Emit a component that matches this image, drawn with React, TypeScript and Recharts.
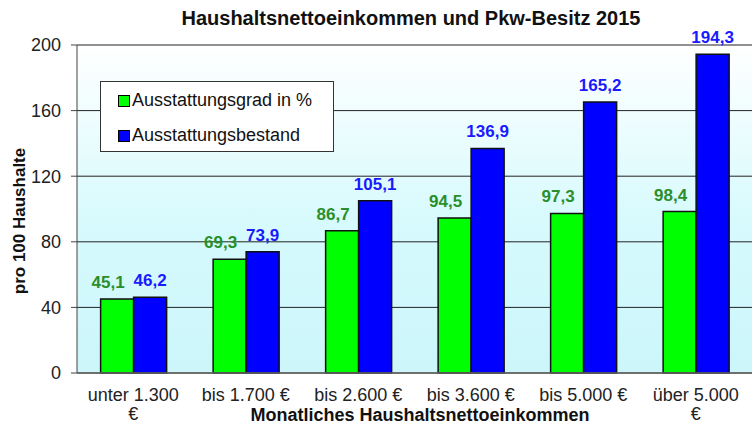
import { BarChart, Bar, XAxis, YAxis, CartesianGrid, LabelList, Legend } from 'recharts';

const categories = ['unter 1.300 €', 'bis 1.700 €', 'bis 2.600 €', 'bis 3.600 €', 'bis 5.000 €', 'über 5.000 €'];
const ausstattungsgrad = [45.1, 69.3, 86.7, 94.5, 97.3, 98.4];
const ausstattungsbestand = [46.2, 73.9, 105.1, 136.9, 165.2, 194.3];
const seriesNames = ['Ausstattungsgrad in %', 'Ausstattungsbestand'];
const yTicks = [0, 40, 80, 120, 160, 200];

const FONT = '"Liberation Sans", Arial, sans-serif';

const data = categories.map((name, i) => ({
  name,
  grad: ausstattungsgrad[i],
  bestand: ausstattungsbestand[i],
}));

const fmt = (v: number) => v.toFixed(1).replace('.', ',');

// long labels don't fit the band and break before the euro sign, as in the original
function splitLabel(label: string) {
  if (label.length <= 11) return [label];
  const cut = label.lastIndexOf(' ');
  return [label.slice(0, cut), label.slice(cut + 1)];
}

function CategoryTick({ x, y, payload }: any) {
  const lines = splitLabel(payload.value);
  return (
    <text x={x} y={y} textAnchor="middle" fontSize={18} fontFamily={FONT} fill="#222">
      {lines.map((line, i) => (
        <tspan key={i} x={x} dy={i === 0 ? 13 : 19}>
          {line}
        </tspan>
      ))}
    </text>
  );
}

// value labels above the bars; green ones sit a bit to the left like in the original
const makeLabel = (color: string, dx: number) => (props: any) => {
  const { x, y, width, value } = props;
  return (
    <text
      x={x + width / 2 + dx}
      y={y - 11}
      textAnchor="middle"
      fontSize={17}
      fontWeight="bold"
      fontFamily={FONT}
      fill={color}
    >
      {fmt(value)}
    </text>
  );
};

function LegendBox({ payload }: any) {
  const items = [...(payload || [])].sort(
    (a: any, b: any) => seriesNames.indexOf(a.value) - seriesNames.indexOf(b.value)
  );
  return (
    <div
      style={{
        width: 234,
        height: 71,
        boxSizing: 'border-box',
        border: '1px solid #333',
        background: '#fff',
        paddingTop: 1,
        fontFamily: FONT,
        fontSize: 18,
        color: '#111',
      }}
    >
      {items.map((p: any) => (
        <div key={p.value} style={{ height: 35, lineHeight: '35px', display: 'flex', alignItems: 'center', paddingLeft: 17 }}>
          <span
            style={{
              display: 'inline-block',
              width: 10,
              height: 10,
              background: p.color,
              border: '1px solid #000',
              marginRight: 2,
            }}
          />
          {p.value}
        </div>
      ))}
    </div>
  );
}

export default function App() {
  return (
    <div style={{ position: 'absolute', left: 0, top: 0, width: 753, height: 425, background: '#fff' }}>
      <BarChart
        width={753}
        height={425}
        data={data}
        margin={{ top: 45, right: 1, left: 0, bottom: 0 }}
        barCategoryGap="21%"
        barGap={0}
      >
        <defs>
          <linearGradient id="plotBg" x1="0" y1="0" x2="0" y2="1">
            <stop offset="0%" stopColor="#ffffff" />
            <stop offset="55%" stopColor="#d6fafd" />
            <stop offset="100%" stopColor="#ccf6fa" />
          </linearGradient>
        </defs>
        <CartesianGrid vertical={false} stroke="#222" fill="url(#plotBg)" fillOpacity={1} />
        <XAxis
          dataKey="name"
          height={52}
          tick={<CategoryTick />}
          tickLine={false}
          tickSize={0}
          tickMargin={15}
          axisLine={{ stroke: '#666', strokeWidth: 1.5 }}
          interval={0}
        />
        <YAxis
          width={77}
          domain={[0, 200]}
          ticks={yTicks}
          tickSize={6}
          tickMargin={10}
          tickLine={{ stroke: '#444' }}
          axisLine={{ stroke: '#444' }}
          tick={{ fontSize: 18, fill: '#222', fontFamily: FONT }}
        />
        <Legend
          layout="vertical"
          align="center"
          verticalAlign="middle"
          content={<LegendBox />}
          wrapperStyle={{ left: 100, top: 81, width: 234, height: 71 }}
        />
        <Bar dataKey="grad" name={seriesNames[0]} fill="#00ff00" stroke="#111" strokeWidth={1.5} isAnimationActive={false}>
          <LabelList dataKey="grad" content={makeLabel('#2a8f2a', -9)} />
        </Bar>
        <Bar dataKey="bestand" name={seriesNames[1]} fill="#0000ff" stroke="#111" strokeWidth={1.5} isAnimationActive={false}>
          <LabelList dataKey="bestand" content={makeLabel('#1a1aff', 0)} />
        </Bar>
      </BarChart>
      <svg width={753} height={425} style={{ position: 'absolute', left: 0, top: 0, pointerEvents: 'none' }}>
        <text x={411} y={25} textAnchor="middle" fontSize={20} fontWeight="bold" fontFamily={FONT} fill="#111">
          Haushaltsnettoeinkommen und Pkw-Besitz 2015
        </text>
        <text
          x={25}
          y={221}
          textAnchor="middle"
          fontSize={17}
          fontWeight="bold"
          fontFamily={FONT}
          fill="#111"
          transform="rotate(-90 25 221)"
        >
          pro 100 Haushalte
        </text>
        <text x={420} y={421} textAnchor="middle" fontSize={18} fontWeight="bold" fontFamily={FONT} fill="#111">
          Monatliches Haushaltsnettoeinkommen
        </text>
      </svg>
    </div>
  );
}
